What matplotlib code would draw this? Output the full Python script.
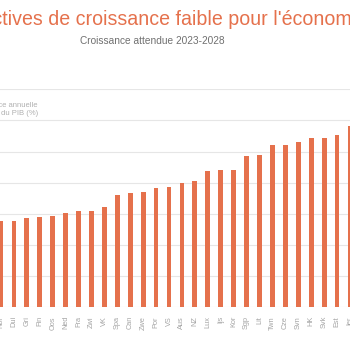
import matplotlib
matplotlib.use('Agg')
import matplotlib.pyplot as plt
import numpy as np

# Expected annual GDP growth 2023-2028 (%)
countries = ["Nor", "Dui", "Gri", "Fin", "Oos", "Ned", "Fra", "Zwi", "VK",
             "Spa", "Can", "Zwe", "Por", "VS", "Aus", "NZ", "Lux", "Ijs",
             "Kor", "Sgp", "Lit", "Twn", "Cze", "Svn", "HK", "Svk", "Est", "Ier"]
growth = [1.38, 1.39, 1.43, 1.44, 1.47, 1.51, 1.55, 1.55, 1.60,
          1.80, 1.83, 1.85, 1.91, 1.93, 2.00, 2.03, 2.19, 2.20,
          2.21, 2.42, 2.45, 2.60, 2.60, 2.66, 2.71, 2.71, 2.77, 2.91]
grid_levels = [0, 0.5, 1.0, 1.5, 2.0, 2.5, 3.0, 3.5]

orange = "#e5714c"

plt.rcParams['font.family'] = ['Liberation Sans', 'DejaVu Sans']

fig = plt.figure(figsize=(3.5, 3.5), dpi=100)
ax = fig.add_axes([0.0, 43 / 350, 1.0, 217.7 / 350])

x = np.arange(len(countries))
ax.bar(x, growth, width=0.37, color=orange, zorder=3)

ax.set_xlim(-0.077, 26.93)
ax.set_ylim(0, 3.5)
ax.set_yticks(grid_levels)
ax.yaxis.grid(True, color="#e6e6e6", linewidth=0.8, zorder=0)
ax.tick_params(axis='y', left=False, labelleft=False)
ax.set_xticks(x)
ax.set_xticklabels(countries, rotation=90, fontsize=5.3, color="#a5a5a5")
ax.tick_params(axis='x', bottom=False, pad=3)
for s in ax.spines.values():
    s.set_visible(False)

# Title and subtitle (the original picture is cropped on both sides)
fig.text(0.5, 0.943, "Perspectives de croissance faible pour l'économie belge",
         ha="center", va="center", fontsize=14.1, color=orange)
fig.text(0.434, 0.883, "Croissance attendue 2023-2028",
         ha="center", va="center", fontsize=7.3, color="#707070")
fig.text(38 / 350, 1 - 109.5 / 350, "Croissance annuelle\ndu PIB (%)",
         ha="right", va="center", multialignment="right",
         fontsize=5.5, color="#b0b0b0", linespacing=1.25)

fig.savefig("out.png", dpi=100, facecolor="white")
plt.close(fig)
